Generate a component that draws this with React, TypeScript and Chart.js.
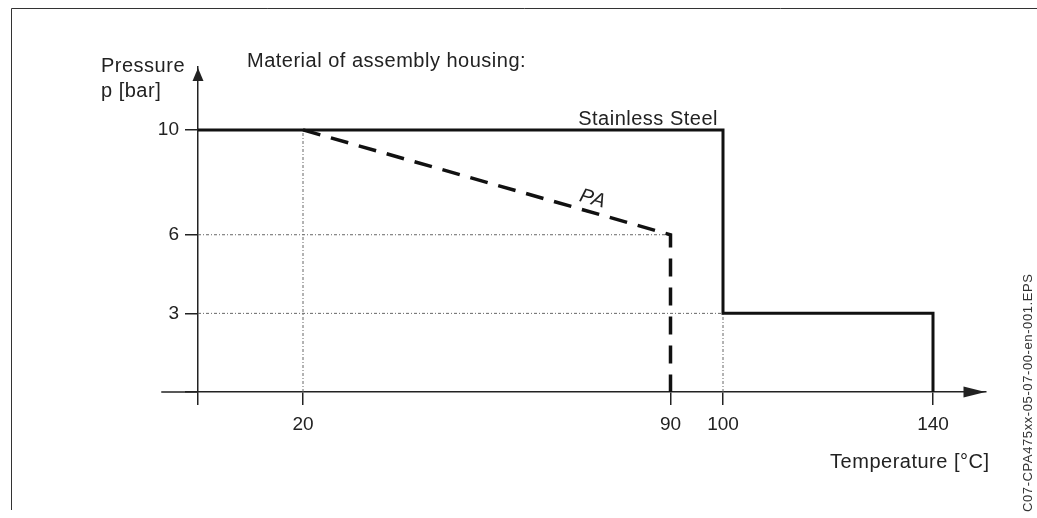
import React, { useEffect, useRef } from 'react';
import { Chart, registerables } from 'chart.js';

Chart.register(...registerables);

// ---- data ----
const tempTicks = [0, 20, 90, 100, 140];
const pressureTicks = [0, 3, 6, 10];
const steelTemp = [0, 100, 100, 140, 140];
const steelPressure = [10, 10, 3, 3, 0];
const paTemp = [20, 90, 90];
const paPressure = [10, 6, 0];
const guideTemp = [[20, 20], [0, 90], [0, 100], [100, 100]];
const guidePressure = [[0, 10], [6, 6], [3, 3], [0, 3]];
const tempAxisExtent = [-7, 150];
const pressureAxisMax = 12.4;

const yTitle = ['Pressure', 'p [bar]'];
const xTitle = 'Temperature [°C]';
const headline = 'Material of assembly housing:';
const steelLabel = 'Stainless Steel';
const paLabel = 'PA';
const paLabelTemp = 74.5;
const fileCode = 'C07-CPA475xx-05-07-00-en-001.EPS';

const FONT = '"Liberation Sans", Arial, Helvetica, sans-serif';
const INK = '#222';

const decorPlugin = {
  id: 'decor',
  afterDraw(chart: any) {
    const { ctx, scales } = chart;
    const x = scales.x;
    const y = scales.y;
    const x0 = x.getPixelForValue(0);
    const y0 = y.getPixelForValue(0);
    ctx.save();

    // x-axis extension to the left of the y-axis
    ctx.strokeStyle = INK;
    ctx.lineWidth = 1.5;
    ctx.beginPath();
    ctx.moveTo(x.getPixelForValue(tempAxisExtent[0]), y0);
    ctx.lineTo(x0, y0);
    ctx.stroke();

    // arrows
    ctx.fillStyle = INK;
    const xt = x.getPixelForValue(tempAxisExtent[1]);
    ctx.beginPath();
    ctx.moveTo(xt, y0);
    ctx.lineTo(xt - 22, y0 - 5.5);
    ctx.lineTo(xt - 22, y0 + 5.5);
    ctx.closePath();
    ctx.fill();
    const yt = y.getPixelForValue(pressureAxisMax) + 1;
    ctx.beginPath();
    ctx.moveTo(x0, yt);
    ctx.lineTo(x0 - 5.5, yt + 13);
    ctx.lineTo(x0 + 5.5, yt + 13);
    ctx.closePath();
    ctx.fill();

    // frame lines
    ctx.strokeStyle = '#333';
    ctx.lineWidth = 1;
    ctx.beginPath();
    ctx.moveTo(11.5, 510);
    ctx.lineTo(11.5, 8.5);
    ctx.lineTo(1037, 8.5);
    ctx.stroke();

    // texts
    (ctx as any).letterSpacing = '0.5px';
    ctx.fillStyle = INK;
    ctx.font = `20px ${FONT}`;
    ctx.textBaseline = 'alphabetic';
    ctx.textAlign = 'left';
    ctx.fillText(yTitle[0], x0 - 97, 72);
    ctx.fillText(yTitle[1], x0 - 97, 97);
    ctx.fillText(headline, x0 + 49, 67);

    ctx.textAlign = 'right';
    ctx.fillText(steelLabel, x.getPixelForValue(100) - 5, y.getPixelForValue(10) - 5);
    ctx.fillText(xTitle, xt + 4, y0 + 76);

    // PA label along its line
    const p1x = x.getPixelForValue(paTemp[0]);
    const p1y = y.getPixelForValue(paPressure[0]);
    const p2x = x.getPixelForValue(paTemp[1]);
    const p2y = y.getPixelForValue(paPressure[1]);
    const ang = Math.atan2(p2y - p1y, p2x - p1x);
    const t = (paLabelTemp - paTemp[0]) / (paTemp[1] - paTemp[0]);
    const lx = p1x + (p2x - p1x) * t + Math.sin(ang) * 13;
    const ly = p1y + (p2y - p1y) * t - Math.cos(ang) * 13;
    ctx.save();
    ctx.translate(lx, ly);
    ctx.rotate(ang);
    ctx.font = `italic 20px ${FONT}`;
    ctx.textAlign = 'center';
    ctx.textBaseline = 'middle';
    ctx.fillText(paLabel, 0, 0);
    ctx.restore();

    // vertical file code
    ctx.save();
    ctx.translate(1032, 512);
    ctx.rotate(-Math.PI / 2);
    (ctx as any).letterSpacing = '0.6px';
    ctx.font = `13px ${FONT}`;
    ctx.fillStyle = '#333';
    ctx.textAlign = 'left';
    ctx.textBaseline = 'alphabetic';
    ctx.fillText(fileCode, 0, 0);
    ctx.restore();

    ctx.restore();
  },
};

function pts(xs: number[], ys: number[]) {
  return xs.map((v, i) => ({ x: v, y: ys[i] }));
}

export default function App() {
  const ref = useRef<HTMLCanvasElement | null>(null);

  useEffect(() => {
    if (!ref.current) return;
    const guideSets = guideTemp.map((g, i) => ({
      data: pts(g, guidePressure[i]),
      showLine: true,
      borderColor: '#666',
      borderWidth: 1,
      borderDash: [3, 2, 1, 2],
      pointRadius: 0,
      fill: false,
      clip: false as any,
    }));
    const chart = new Chart(ref.current, {
      type: 'scatter',
      data: {
        datasets: [
          {
            data: pts(steelTemp, steelPressure),
            showLine: true,
            borderColor: '#111',
            borderWidth: 3,
            pointRadius: 0,
            fill: false,
            borderJoinStyle: 'miter',
            clip: false as any,
          },
          {
            data: pts(paTemp, paPressure),
            showLine: true,
            borderColor: '#111',
            borderWidth: 3.5,
            borderDash: [18, 11],
            borderCapStyle: 'butt',
            pointRadius: 0,
            fill: false,
            borderJoinStyle: 'miter',
            clip: false as any,
          },
          ...guideSets,
        ] as any,
      },
      options: {
        animation: false,
        responsive: true,
        maintainAspectRatio: false,
        events: [],
        layout: { padding: { left: 148, right: 51.5, top: 67, bottom: 86 } },
        plugins: { legend: { display: false }, tooltip: { enabled: false } },
        scales: {
          x: {
            type: 'linear',
            min: 0,
            max: tempAxisExtent[1],
            afterBuildTicks: (s: any) => {
              s.ticks = tempTicks.map((v) => ({ value: v }));
            },
            afterFit: (s: any) => {
              s.height = 40;
              s.paddingLeft = 0;
              s.paddingRight = 0;
            },
            ticks: {
              autoSkip: false,
              maxRotation: 0,
              padding: 8,
              color: INK,
              font: { family: FONT, size: 19 },
              callback: (v: any) => (v === 0 ? '' : String(v)),
            },
            grid: { drawOnChartArea: false, drawTicks: true, tickLength: 13, color: INK, lineWidth: 1.5 },
            border: { display: true, color: INK, width: 1.5 },
          },
          y: {
            type: 'linear',
            min: 0,
            max: pressureAxisMax,
            afterBuildTicks: (s: any) => {
              s.ticks = pressureTicks.map((v) => ({ value: v }));
            },
            afterFit: (s: any) => {
              s.width = 50;
              s.paddingTop = 0;
              s.paddingBottom = 0;
            },
            ticks: {
              autoSkip: false,
              padding: 6,
              color: INK,
              font: { family: FONT, size: 19 },
              callback: (v: any) => (v === 0 ? '' : String(v)),
            },
            grid: { drawOnChartArea: false, drawTicks: true, tickLength: 13, color: INK, lineWidth: 1.5 },
            border: { display: true, color: INK, width: 1.5 },
          },
        },
      } as any,
      plugins: [decorPlugin],
    });
    return () => chart.destroy();
  }, []);

  return (
    <div style={{ position: 'fixed', left: 0, top: 0, width: 1037, height: 518, background: '#fff' }}>
      <canvas ref={ref} />
    </div>
  );
}
